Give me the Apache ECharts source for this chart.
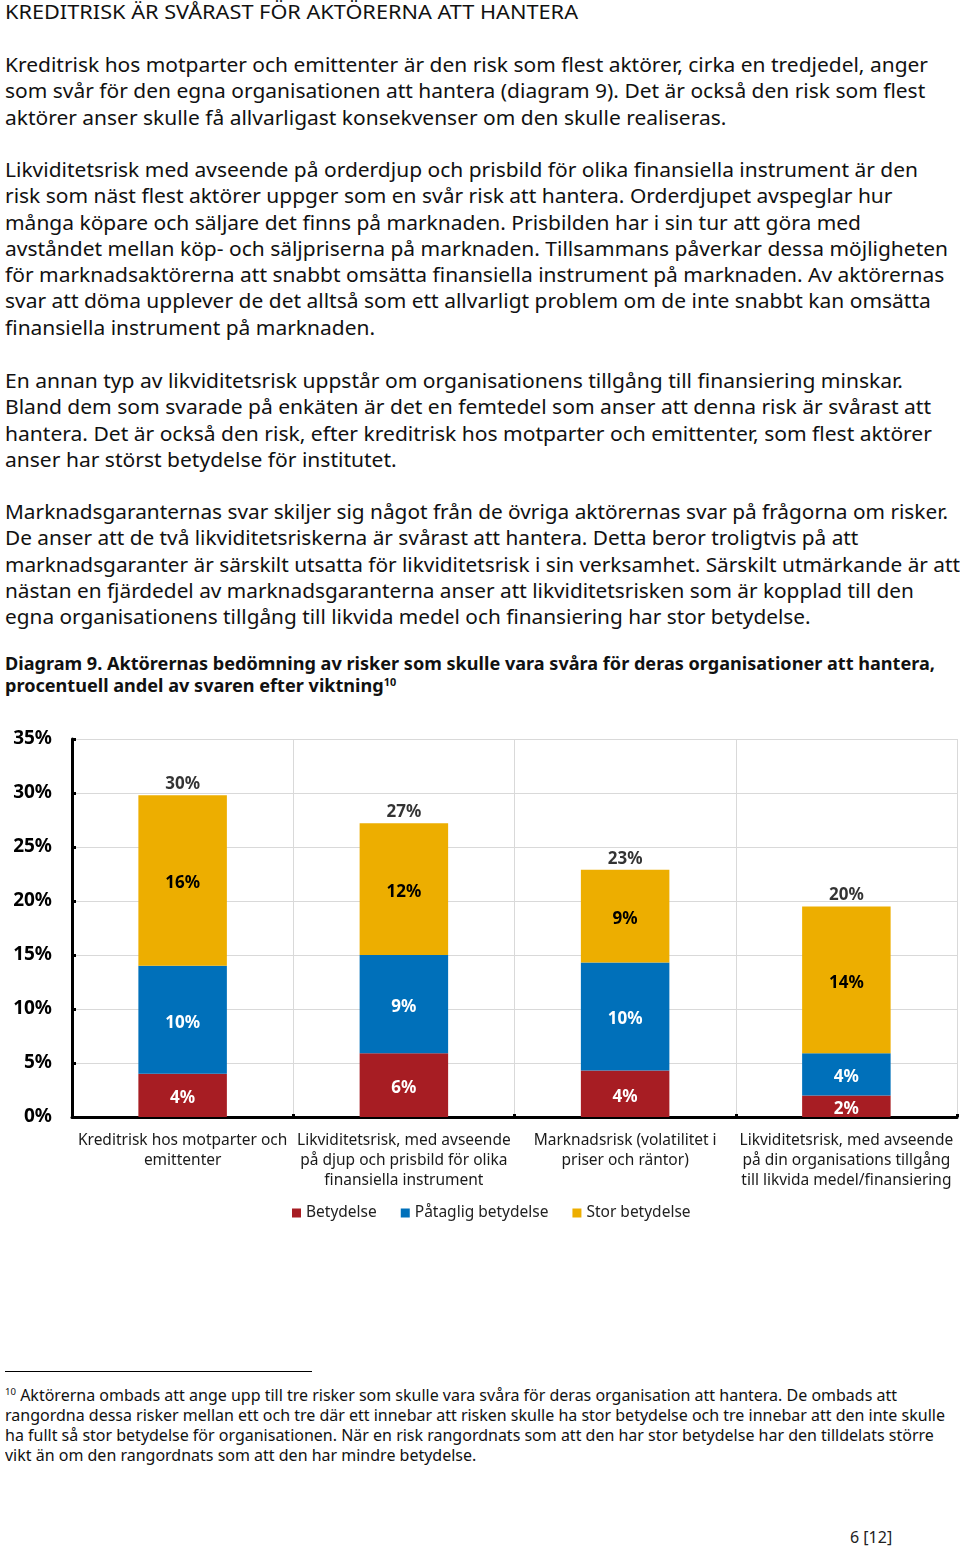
<!DOCTYPE html>
<html>
<head>
<meta charset="utf-8">
<script src="https://cdn.jsdelivr.net/npm/echarts@6/dist/echarts.min.js"></script>
<style>
  html, body { margin: 0; padding: 0; background: #fff; }
  body { width: 960px; height: 1547px; position: relative; overflow: hidden; font-family: "Noto Sans", "Open Sans", sans-serif; color: #111; }
  .blk { position: absolute; left: 5px; white-space: nowrap; transform-origin: 0 0; }
  .title { top: 0px; font-size: 20px; line-height: 24px; }
  .body { font-size: 19px; line-height: 26.3px; }
  .cap { top: 653px; font-size: 17px; line-height: 22px; font-weight: bold; }
  .fn { top: 1385px; font-size: 15.5px; line-height: 20px; }
  sup { font-size: 60%; line-height: 0; vertical-align: 0.6em; }
  #rule { position: absolute; left: 5px; top: 1371px; width: 307px; height: 1px; background: #000; }
  #page { position: absolute; left: 850px; top: 1526px; font-size: 16px; line-height: 22px; color: #222; }
  #chart { position: absolute; left: 0; top: 700px; width: 960px; height: 540px; }
</style>
</head>
<body>
<div class="blk title" data-w="573"><span>KREDITRISK ÄR SVÅRAST FÖR AKTÖRERNA ATT HANTERA</span></div>

<div class="blk body" style="top:52px" data-w="923"><span>Kreditrisk hos motparter och emittenter är den risk som flest aktörer, cirka en tredjedel, anger</span><br><span>som svår för den egna organisationen att hantera (diagram 9). Det är också den risk som flest</span><br><span>aktörer anser skulle få allvarligast konsekvenser om den skulle realiseras.</span></div>

<div class="blk body" style="top:157px" data-w="913"><span>Likviditetsrisk med avseende på orderdjup och prisbild för olika finansiella instrument är den</span><br><span>risk som näst flest aktörer uppger som en svår risk att hantera. Orderdjupet avspeglar hur</span><br><span>många köpare och säljare det finns på marknaden. Prisbilden har i sin tur att göra med</span><br><span>avståndet mellan köp- och säljpriserna på marknaden. Tillsammans påverkar dessa möjligheten</span><br><span>för marknadsaktörerna att snabbt omsätta finansiella instrument på marknaden. Av aktörernas</span><br><span>svar att döma upplever de det alltså som ett allvarligt problem om de inte snabbt kan omsätta</span><br><span>finansiella instrument på marknaden.</span></div>

<div class="blk body" style="top:368px" data-w="898"><span>En annan typ av likviditetsrisk uppstår om organisationens tillgång till finansiering minskar.</span><br><span>Bland dem som svarade på enkäten är det en femtedel som anser att denna risk är svårast att</span><br><span>hantera. Det är också den risk, efter kreditrisk hos motparter och emittenter, som flest aktörer</span><br><span>anser har störst betydelse för institutet.</span></div>

<div class="blk body" style="top:499px" data-w="943"><span>Marknadsgaranternas svar skiljer sig något från de övriga aktörernas svar på frågorna om risker.</span><br><span>De anser att de två likviditetsriskerna är svårast att hantera. Detta beror troligtvis på att</span><br><span>marknadsgaranter är särskilt utsatta för likviditetsrisk i sin verksamhet. Särskilt utmärkande är att</span><br><span>nästan en fjärdedel av marknadsgaranterna anser att likviditetsrisken som är kopplad till den</span><br><span>egna organisationens tillgång till likvida medel och finansiering har stor betydelse.</span></div>

<div class="blk cap" data-w="930"><span>Diagram 9. Aktörernas bedömning av risker som skulle vara svåra för deras organisationer att hantera,</span><br><span>procentuell andel av svaren efter viktning<sup>10</sup></span></div>

<div id="chart"></div>

<div id="rule"></div>
<div class="blk fn" data-w="892"><span><sup>10</sup> Aktörerna ombads att ange upp till tre risker som skulle vara svåra för deras organisation att hantera. De ombads att</span><br><span>rangordna dessa risker mellan ett och tre där ett innebar att risken skulle ha stor betydelse och tre innebar att den inte skulle</span><br><span>ha fullt så stor betydelse för organisationen. När en risk rangordnats som att den har stor betydelse har den tilldelats större</span><br><span>vikt än om den rangordnats som att den har mindre betydelse.</span></div>

<div id="page">6 [12]</div>

<script>
// ---- Data ----
var categories = [
  "Kreditrisk hos motparter och\nemittenter",
  "Likviditetsrisk, med avseende\npå djup och prisbild för olika\nfinansiella instrument",
  "Marknadsrisk (volatilitet i\npriser och räntor)",
  "Likviditetsrisk, med avseende\npå din organisations tillgång\ntill likvida medel/finansiering"
];
var seriesNames = ["Betydelse", "Påtaglig betydelse", "Stor betydelse"];
var betydelse = [4.0, 5.9, 4.3, 2.0];
var pataglig = [10.0, 9.1, 10.0, 3.9];
var stor = [15.8, 12.2, 8.6, 13.6];
var yTicks = [0, 5, 10, 15, 20, 25, 30, 35];

// ---- Fit text blocks horizontally ----
document.querySelectorAll('.blk').forEach(function (b) {
  var first = b.querySelector('span');
  var w = first.getBoundingClientRect().width;
  var target = parseFloat(b.getAttribute('data-w'));
  if (w > 0 && target) b.style.transform = 'scaleX(' + (target / w) + ')';
});

// ---- Chart ----
var totals = categories.map(function (_, i) { return betydelse[i] + pataglig[i] + stor[i]; });
var colors = ["#A71D23", "#0070BA", "#EDAE00"];
var FONT = '"Noto Sans", sans-serif';
function pct(p) { return Math.round(p.value) + '%'; }

var chart = echarts.init(document.getElementById('chart'), null, { renderer: 'canvas' });
function segLabel(color) {
  return { show: true, position: 'inside', offset: [0, 3], formatter: pct, color: color, fontSize: 17, fontWeight: 'bold', fontFamily: FONT };
}
chart.setOption({
  animation: false,
  textStyle: { fontFamily: FONT },
  grid: { left: 72, right: 3, top: 39, bottom: 123, containLabel: false },
  legend: {
    data: seriesNames,
    left: 287, top: 500,
    icon: 'rect', itemWidth: 9, itemHeight: 9, itemGap: 24,
    textStyle: { fontSize: 15.5, color: '#222', fontFamily: FONT }
  },
  xAxis: {
    type: 'category',
    data: categories,
    axisLine: { lineStyle: { color: '#000', width: 3 } },
    axisTick: { show: true, inside: true, length: 3, lineStyle: { color: '#000', width: 3 } },
    splitLine: { show: true, lineStyle: { color: '#D9D9D9', width: 1 } },
    axisLabel: { interval: 0, color: '#1a1a1a', fontSize: 15.5, lineHeight: 20, margin: 14, fontFamily: FONT }
  },
  yAxis: {
    type: 'value',
    min: yTicks[0], max: yTicks[yTicks.length - 1], interval: 5,
    axisLine: { show: true, lineStyle: { color: '#000', width: 3 } },
    axisTick: { show: true, inside: true, length: 4, lineStyle: { color: '#000', width: 3 } },
    splitLine: { show: true, lineStyle: { color: '#D9D9D9', width: 1 } },
    axisLabel: { formatter: '{value}%', color: '#000', fontSize: 19, fontWeight: 'bold', margin: 20, padding: [4, 0, 0, 0], fontFamily: FONT }
  },
  series: [
    { name: seriesNames[0], type: 'bar', stack: 's', barWidth: '40%', data: betydelse, itemStyle: { color: colors[0] }, label: segLabel('#fff') },
    { name: seriesNames[1], type: 'bar', stack: 's', barWidth: '40%', data: pataglig, itemStyle: { color: colors[1] }, label: segLabel('#fff') },
    { name: seriesNames[2], type: 'bar', stack: 's', barWidth: '40%', data: stor, itemStyle: { color: colors[2] }, label: segLabel('#000') },
    { name: 'Totalt', type: 'scatter', data: totals, symbol: 'rect', symbolSize: 1, itemStyle: { color: 'rgba(0,0,0,0)' }, silent: true,
      label: { show: true, position: 'top', distance: 2, formatter: pct, color: '#000', fontSize: 17, fontWeight: 'bold', fontFamily: FONT } }
  ]
});
</script>
</body>
</html>
